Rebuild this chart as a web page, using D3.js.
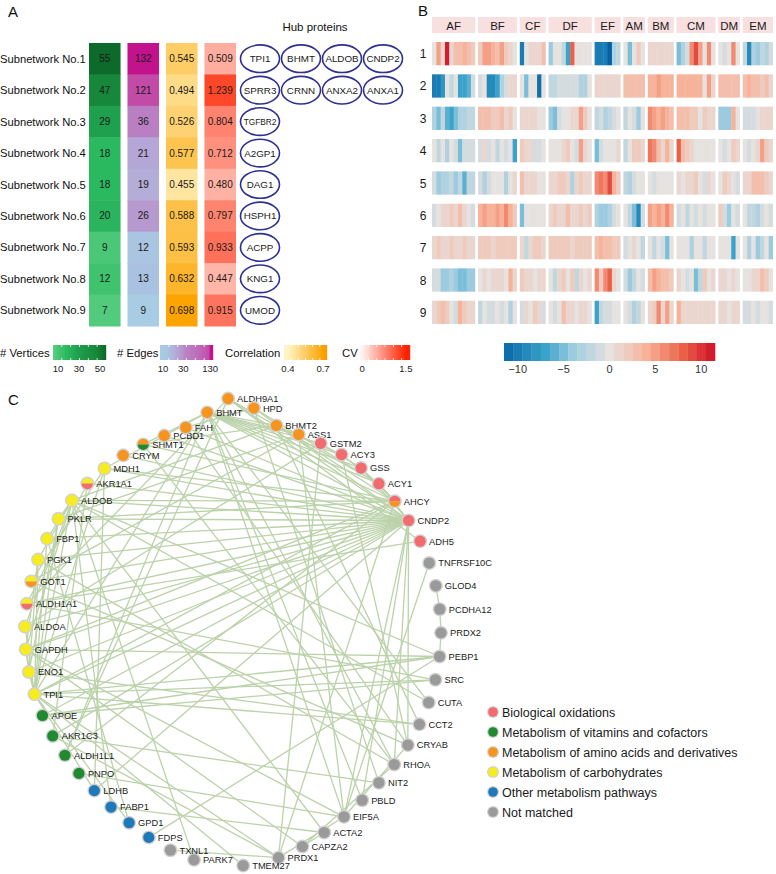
<!DOCTYPE html>
<html>
<head>
<meta charset="utf-8">
<script src="https://cdn.jsdelivr.net/npm/d3@7"></script>
<style>
  body { margin: 0; background: #fff; }
  svg { font-family: "Liberation Sans", Arial, sans-serif; }
</style>
</head>
<body>
<script>
// ---- panel A data ----
const subnetworks = ["Subnetwork No.1","Subnetwork No.2","Subnetwork No.3","Subnetwork No.4","Subnetwork No.5","Subnetwork No.6","Subnetwork No.7","Subnetwork No.8","Subnetwork No.9"];
const vertices = [55, 47, 29, 18, 18, 20, 9, 12, 7];
const edgeCounts = [132, 121, 36, 21, 19, 26, 12, 13, 9];
const correlation = [0.545, 0.494, 0.526, 0.577, 0.455, 0.588, 0.593, 0.632, 0.698];
const cv = [0.509, 1.239, 0.804, 0.712, 0.480, 0.797, 0.933, 0.447, 0.915];
const hubProteins = [
  ["TPI1","BHMT","ALDOB","CNDP2"], ["SPRR3","CRNN","ANXA2","ANXA1"], ["TGFBR2"], ["A2GP1"],
  ["DAG1"], ["HSPH1"], ["ACPP"], ["KNG1"], ["UMOD"]
];
const vertTicks = [10, 30, 50];
const edgeTicks = [10, 30, 130];
const corTicks = [0.4, 0.7];
const cvTicks = [0, 1.5];

// ---- panel B data ----
const groups = ["AF","BF","CF","DF","EF","AM","BM","CM","DM","EM"];
const groupSizes = [10, 9, 6, 10, 6, 5, 6, 9, 5, 7];
const heatRows = [1,2,3,4,5,6,7,8,9];
const heat = [
  [[0,5,1,11,1,3,3,4,3,2],[2,5,5,4,3,5,2,1,0],[-10,0,1,1,1,3],[-4,0,0,-2,-7,8,0,0,0,0],[-10,-10,-10,-12,-3,-2],[0,-5,0,2,0],[1,1,1,1,1,1],[-5,-3,-1,6,9,5,0,6,0],[0,-1,0,6,0],[-2,-9,-3,-4,-2,-3,-1]],
  [[-10,-10,-8,0,-2,0,-7,-7,-6,-1],[-1,0,-9,-9,-7,-3,-1,1,1],[0,-5,0,0,-11,0],[-2,-2,-1,-1,-1,-1,-1,-3,-3,0],[1,1,1,1,1,1],[3,3,3,3,3],[4,4,5,4,4,4],[4,4,4,4,4,4,0,5,1],[3,3,3,3,3],[3,4,3,3,2,3,1]],
  [[-3,-5,-2,-6,-7,-5,-3,-3,-2,-2],[3,3,3,2,2,3,1,2,0],[1,1,1,1,0,0],[-4,-5,-1,0,0,1,1,5,2,0],[-2,-1,-3,-2,-1,0],[-2,0,-1,-4,0],[6,5,4,5,4,3],[3,3,3,2,2,0,2,1,1],[-4,-4,-4,4,0],[-1,-1,-1,0,1,1,1]],
  [[0,-2,0,-3,0,-1,-5,-1,-1,-1],[-1,1,-1,0,-2,0,-1,0,-7],[2,1,1,-1,-1,0],[0,0,0,1,2,0,-1,5,1,0],[-5,-1,0,0,0,1],[-2,0,2,2,1],[7,6,3,1,4,1],[8,3,2,1,0,0,0,0,0],[0,-1,0,2,1],[0,-1,0,1,5,2,1]],
  [[-1,-4,-3,-3,-2,-4,-2,-6,-2,-2],[-1,-3,-1,0,0,0,-3,0,1],[3,1,1,1,0,0],[1,1,2,2,1,-3,1,2,1,1],[6,7,6,9,4,2],[-2,-3,-1,0,0],[0,-1,0,0,0,0],[1,0,1,1,2,0,-1,1,0],[0,2,1,0,-1],[1,1,3,3,3,2,1]],
  [[-1,0,1,1,2,1,3,1,0,-1],[4,5,4,4,5,4,6,4,2],[-5,0,0,0,0,0],[1,2,1,1,3,1,1,2,1,2],[-3,-4,-4,-3,-1,0],[0,-2,-5,-9,-1],[5,4,5,4,6,4],[-1,0,-2,0,-1,0,-1,0,0],[2,-1,-4,0,-1],[0,-2,-2,-3,-1,0,-1]],
  [[1,2,1,1,2,1,1,2,1,1],[2,2,2,1,2,2,2,2,2],[1,-2,1,2,2,1],[2,2,2,2,2,1,2,2,2,2],[3,4,3,3,2,2],[-1,0,1,0,-2],[0,-2,0,-1,-5,0],[0,0,0,-3,0,0,-2,0,0],[0,0,0,-7,0],[0,-3,0,-4,-2,0,-4]],
  [[-1,-1,-4,-4,-3,-4,-5,-5,-4,-4],[0,1,0,1,1,1,0,4,1],[2,1,1,0,1,1],[0,-2,1,2,0,2,-2,1,0,1],[6,2,6,8,1,0],[-1,-4,-2,0,-1],[3,5,4,3,3,2],[1,0,-1,0,-5,-2,2,0,1],[1,1,0,1,0],[0,0,1,1,3,2,0]],
  [[1,2,3,2,0,-1,4,2,1,1],[-2,0,-1,-1,0,-1,0,-3,0],[-1,1,0,2,1,-1],[0,-1,0,3,1,1,0,1,1,0],[-7,-2,-1,-1,0,0],[0,-1,-3,-2,0],[1,2,6,1,5,1],[4,1,1,1,1,1,1,1,1],[1,1,0,1,1],[-1,-1,0,-1,0,0,-1]]
];
const heatTicks = [-10, -5, 0, 5, 10];

// ---- panel C data ----
const nodeNames = ["ALDH9A1","HPD","BHMT2","ASS1","GSTM2","ACY3","GSS","ACY1","AHCY","CNDP2","ADH5",
  "TNFRSF10C","GLOD4","PCDHA12","PRDX2","PEBP1","SRC","CUTA","CCT2","CRYAB","RHOA","NIT2","PBLD","EIF5A",
  "ACTA2","CAPZA2","PRDX1","TMEM27","PARK7","TXNL1","FDPS","GPD1","FABP1","LDHB","PNPO","ALDH1L1","AKR1C3",
  "APOE","TPI1","ENO1","GAPDH","ALDOA","ALDH1A1","GOT1","PGK1","FBP1","PKLR","ALDOB","AKR1A1","MDH1","CRYM",
  "SHMT1","PCBD1","FAH","BHMT"];
const nodeGroups = ["amino","amino","amino","amino","bio","bio","bio","bio","bio|amino","bio","bio",
  "none","none","none","none","none","none","none","none","none","none","none","none","none",
  "none","none","none","none","none","none","other","other","other","other","vit","vit","vit",
  "vit","carb","carb","carb","carb","carb|bio","carb|amino","carb","carb","carb","carb","carb|bio","carb","amino",
  "amino|vit","amino","amino","amino"];
const links = [
  ["CNDP2","TPI1"],["CNDP2","ENO1"],["CNDP2","GAPDH"],["CNDP2","ALDOA"],["CNDP2","PGK1"],["CNDP2","FBP1"],
  ["CNDP2","PKLR"],["CNDP2","ALDOB"],["CNDP2","MDH1"],["CNDP2","AKR1A1"],["CNDP2","ALDH1A1"],["CNDP2","GOT1"],
  ["CNDP2","APOE"],["CNDP2","AKR1C3"],["CNDP2","LDHB"],["CNDP2","CRYM"],["CNDP2","PCBD1"],["CNDP2","FAH"],
  ["CNDP2","BHMT"],["CNDP2","ALDH9A1"],["CNDP2","HPD"],["CNDP2","ACY1"],["CNDP2","EIF5A"],["CNDP2","CRYAB"],
  ["CNDP2","RHOA"],["CNDP2","PBLD"],["CNDP2","GSS"],
  ["AHCY","BHMT"],["AHCY","BHMT2"],["AHCY","SHMT1"],["AHCY","MDH1"],["AHCY","ALDOB"],["AHCY","TPI1"],
  ["AHCY","GAPDH"],["AHCY","PKLR"],["AHCY","ACY1"],["AHCY","GSS"],["AHCY","ALDH1L1"],["AHCY","PRDX1"],
  ["BHMT","BHMT2"],["BHMT","ASS1"],["BHMT","GSTM2"],["BHMT","ACY3"],["BHMT","GSS"],["BHMT","ACY1"],
  ["BHMT","SHMT1"],["BHMT","CUTA"],["BHMT","RHOA"],["BHMT","EIF5A"],["BHMT","PBLD"],["BHMT","ALDH1L1"],
  ["BHMT","TPI1"],["BHMT","MDH1"],
  ["ALDH9A1","ACY1"],["ALDH9A1","ADH5"],["ALDH9A1","ALDH1A1"],["ALDH9A1","ALDH1L1"],
  ["HPD","FAH"],["HPD","ACY1"],["HPD","NIT2"],
  ["BHMT2","ACY3"],["BHMT2","SHMT1"],["BHMT2","CCT2"],["BHMT2","ALDOB"],
  ["ASS1","GOT1"],["ASS1","PKLR"],["ASS1","EIF5A"],
  ["GSTM2","GSS"],["GSTM2","ALDOA"],["GSTM2","PRDX1"],["ACY3","ACY1"],["ACY3","CRYAB"],
  ["TPI1","ENO1"],["TPI1","GAPDH"],["TPI1","ALDOA"],["TPI1","PGK1"],["TPI1","FBP1"],["TPI1","PKLR"],
  ["TPI1","ALDOB"],["TPI1","MDH1"],["TPI1","LDHB"],["TPI1","GPD1"],["TPI1","PEBP1"],["TPI1","CCT2"],
  ["TPI1","SRC"],["TPI1","PRDX1"],["TPI1","TMEM27"],
  ["ALDOB","FBP1"],["ALDOB","PKLR"],["ALDOB","GAPDH"],["ALDOB","ALDOA"],["ALDOB","PGK1"],["ALDOB","PEBP1"],
  ["ALDOB","CUTA"],["ALDOB","ACTA2"],["ALDOB","FABP1"],["ALDOB","PARK7"],
  ["GAPDH","PGK1"],["GAPDH","ENO1"],["GAPDH","PEBP1"],["GAPDH","CAPZA2"],["GAPDH","EIF5A"],
  ["ENO1","PGK1"],["ENO1","PKLR"],["ENO1","CCT2"],["PGK1","RHOA"],["FBP1","GPD1"],
  ["MDH1","GOT1"],["MDH1","LDHB"],["GOT1","CRYAB"],
  ["ALDH1A1","ADH5"],["ALDH1A1","AKR1A1"],["ALDH1A1","SRC"],["AKR1A1","AKR1C3"],
  ["AKR1C3","PRDX1"],["AKR1C3","NIT2"],["APOE","PEBP1"],["APOE","SRC"],["PNPO","EIF5A"],
  ["FABP1","ACTA2"],["FDPS","PEBP1"],["TXNL1","PRDX1"],
  ["PEBP1","PRDX2"],["PRDX2","PCDHA12"],["PCDHA12","GLOD4"],["TNFRSF10C","EIF5A"],
  ["EIF5A","CRYAB"],["EIF5A","PRDX1"],["CRYAB","FAH"],["RHOA","CAPZA2"],["RHOA","SHMT1"],["CAPZA2","ACTA2"]
];
const pathwayKeys = ["bio","vit","amino","carb","other","none"];
const pathwayLabels = ["Biological oxidations","Metabolism of vitamins and cofactors",
  "Metabolism of amino acids and derivatives","Metabolism of carbohydrates","Other metabolism pathways","Not matched"];
const pathwayColors = ["#f26b6d","#1f8a30","#f7941d","#f5ed1f","#1f78b8","#9a9a9a"];

const W = 776, H = 874;
const svg = d3.select("body").append("svg").attr("width", W).attr("height", H);

function panelLetter(t, x, y) {
  svg.append("text").attr("x", x).attr("y", y).attr("font-size", 15).attr("fill", "#111").text(t);
}

// ================= Panel A =================
panelLetter("A", 8, 17);
const yA = d3.scaleBand().domain(d3.range(9)).range([43, 326]);
const colKeys = ["vertices","edges","correlation","cv"];
const xA = d3.scaleBand().domain(colKeys).range([89, 236]).paddingInner(0.18);
const colVert = d3.scaleLinear().domain([7, 18, 29, 47, 55]).range(["#52cb7c","#2bb960","#1fa04e","#17873a","#0d6a2b"]);
const colEdge = d3.scaleLinear().domain([9, 13, 20, 36, 121, 132]).range(["#a8cce4","#aac2e1","#b4a9d7","#ba7fc2","#c24ba7","#c2138d"]);
const colCor = d3.scaleLinear().domain([0.4, 0.7]).range(["#fff4c4","#fca300"]);
const colCV = d3.scaleLinear().domain([0, 1.5]).range(["#fff4f0","#ff2200"]);
const colDefs = [
  {key: "vertices", vals: vertices, color: colVert, fmt: d => d},
  {key: "edges", vals: edgeCounts, color: colEdge, fmt: d => d},
  {key: "correlation", vals: correlation, color: colCor, fmt: d3.format(".3f")},
  {key: "cv", vals: cv, color: colCV, fmt: d3.format(".3f")}
];

const gA = svg.append("g");
gA.selectAll(".rowlab").data(subnetworks).enter().append("text")
  .attr("x", 0).attr("y", (d, i) => yA(i) + yA.bandwidth() / 2 + 4)
  .attr("font-size", 11.2).attr("fill", "#111").text(d => d);

colDefs.forEach(c => {
  const g = gA.append("g");
  g.selectAll("rect").data(c.vals).enter().append("rect")
    .attr("x", xA(c.key)).attr("y", (d, i) => yA(i))
    .attr("width", xA.bandwidth()).attr("height", yA.bandwidth() + 0.5)
    .attr("fill", d => c.color(d));
  g.selectAll("text").data(c.vals).enter().append("text")
    .attr("x", xA(c.key) + xA.bandwidth() / 2).attr("y", (d, i) => yA(i) + yA.bandwidth() / 2 + 3.5)
    .attr("text-anchor", "middle").attr("font-size", 10).attr("fill", "#1a1a1a")
    .text(d => c.fmt(d));
});

// hub proteins
const xHub = d3.scalePoint().domain([0, 1, 2, 3]).range([260, 383]);
gA.append("text").attr("x", 315).attr("y", 31).attr("text-anchor", "middle")
  .attr("font-size", 11.5).attr("fill", "#111").text("Hub  proteins");
hubProteins.forEach((hubs, i) => {
  const g = gA.append("g");
  g.selectAll("ellipse").data(hubs).enter().append("ellipse")
    .attr("cx", (d, j) => xHub(j)).attr("cy", yA(i) + yA.bandwidth() / 2)
    .attr("rx", 19.5).attr("ry", 13.8)
    .attr("fill", "#fff").attr("stroke", "#2e3190").attr("stroke-width", 1.6);
  g.selectAll("text").data(hubs).enter().append("text")
    .attr("x", (d, j) => xHub(j)).attr("y", yA(i) + yA.bandwidth() / 2 + 3.5)
    .attr("text-anchor", "middle").attr("font-size", d => d.length > 5 ? 8.3 : 9.8)
    .attr("fill", "#1a1a1a").text(d => d);
});

// legends for A
function gradLegend(label, lx, x0, x1, scale, colorFn, ticks, tickFmt) {
  const g = gA.append("g");
  g.append("text").attr("x", lx).attr("y", 357).attr("font-size", 11.3).attr("fill", "#111").text(label);
  const steps = d3.range(x0, x1, 1);
  g.selectAll("rect").data(steps).enter().append("rect")
    .attr("x", d => d).attr("y", 345).attr("width", 1.2).attr("height", 15)
    .attr("fill", d => colorFn(scale.invert(d + 0.5)));
  const notches = d3.range(1, 6).map(k => x0 + (x1 - x0) * k / 6);
  g.selectAll(".n1").data(notches).enter().append("line")
    .attr("x1", d => d).attr("x2", d => d).attr("y1", 345).attr("y2", 347)
    .attr("stroke", "#fff").attr("stroke-width", 0.8);
  g.selectAll(".n2").data(notches).enter().append("line")
    .attr("x1", d => d).attr("x2", d => d).attr("y1", 358).attr("y2", 360)
    .attr("stroke", "#fff").attr("stroke-width", 0.8);
  g.selectAll(".tk").data(ticks).enter().append("text")
    .attr("x", d => scale(d)).attr("y", 372).attr("text-anchor", "middle")
    .attr("font-size", 9.5).attr("fill", "#222").text(tickFmt);
}
gradLegend("# Vertices", 0, 53, 106, d3.scaleLinear().domain([5.2, 55.7]).range([53, 106]), colVert, vertTicks, d => d);
gradLegend("# Edges", 117, 160, 213, d3.scaleLog().domain([8.5, 151]).range([160, 213]), v => colEdge(Math.max(9, Math.min(132, v))), edgeTicks, d => d);
gradLegend("Correlation", 225, 284, 327, d3.scaleLinear().domain([0.366, 0.734]).range([284, 327]), v => colCor(Math.max(0.4, v)), corTicks, d => d);
gradLegend("CV", 342, 360, 410, d3.scaleLinear().domain([-0.07, 1.64]).range([360, 410]), v => colCV(Math.max(0, Math.min(1.5, v))), cvTicks, d => d);

// ================= Panel B =================
panelLetter("B", 418, 16);
const gapSlots = 0.65;
const starts = [];
let acc = 0;
groupSizes.forEach((n, i) => { starts.push(acc); acc += n + gapSlots; });
const totalSlots = acc - gapSlots;
const xB = d3.scaleLinear().domain([0, totalSlots]).range([432, 773]);
const yB = d3.scaleBand().domain(heatRows).range([42, 324]).paddingInner(0.28);
const colHeat = d3.scaleLinear().domain([-11.5, -7, -4, 0, 4, 8, 11.5])
  .range(["#0868a8","#3aa3cb","#9ccbe0","#e6e2e0","#f7b39a","#ea6148","#d0112b"]);

const gB = svg.append("g");
groups.forEach((grp, gi) => {
  const x0 = xB(starts[gi]), x1 = xB(starts[gi] + groupSizes[gi]);
  gB.append("rect").attr("x", x0).attr("y", 17).attr("width", x1 - x0).attr("height", 16).attr("fill", "#f8dfe0");
  gB.append("text").attr("x", (x0 + x1) / 2).attr("y", 29.5).attr("text-anchor", "middle")
    .attr("font-size", 11.5).attr("fill", "#1a1a1a").text(grp);
});
const cellW = xB(1) - xB(0);
heat.forEach((row, ri) => {
  const r = heatRows[ri];
  const g = gB.append("g");
  const cells = [];
  row.forEach((vals, gi) => vals.forEach((v, si) => cells.push({slot: starts[gi] + si, v: v, last: si === vals.length - 1})));
  g.selectAll("rect").data(cells).enter().append("rect")
    .attr("x", d => xB(d.slot)).attr("y", yB(r))
    .attr("width", d => d.last ? cellW : cellW + 0.4).attr("height", yB.bandwidth())
    .attr("fill", d => colHeat(d.v));
  gB.append("text").attr("x", 423).attr("y", yB(r) + yB.bandwidth() / 2 + 4.5)
    .attr("text-anchor", "middle").attr("font-size", 12).attr("fill", "#1a1a1a").text(r);
});

// heatmap legend
const xLeg = d3.scaleLinear().domain([-11.5, 11.5]).range([504, 715]);
const legBlocks = d3.range(-11.5, 11.5, 1);
gB.selectAll(".lb").data(legBlocks).enter().append("rect")
  .attr("x", d => xLeg(d)).attr("y", 343).attr("width", xLeg(1) - xLeg(0) + 0.3).attr("height", 18)
  .attr("fill", d => colHeat(d + 0.5));
gB.selectAll(".lt").data(heatTicks).enter().append("text")
  .attr("x", d => xLeg(d)).attr("y", 373).attr("text-anchor", "middle")
  .attr("font-size", 11).attr("fill", "#333").text(d => d < 0 ? "\u2212" + Math.abs(d) : d);

// ================= Panel C =================
panelLetter("C", 8, 405);
const cx = 233, cy = 632;
const angleScale = d3.scaleLinear().domain([0, 26, 27, 28, 54]).range([-91.2, 78.6, 87.5, 99.7, 263.3]);
// ring is pointed at the top, rounder at the bottom
const nodes = nodeNames.map((name, i) => {
  const a = angleScale(i) * Math.PI / 180;
  const s = Math.sin(a);
  const r = 208 + 26 * Math.pow(Math.abs(s), s < 0 ? 100 : 8);
  return {name: name, groups: nodeGroups[i].split("|"), x: cx + r * Math.cos(a), y: cy + r * s};
});
const nodeById = new Map(nodes.map(n => [n.name, n]));
const pathColor = d3.scaleOrdinal().domain(pathwayKeys).range(pathwayColors);

const gC = svg.append("g");
gC.append("g").selectAll("line").data(links).enter().append("line")
  .attr("x1", d => nodeById.get(d[0]).x).attr("y1", d => nodeById.get(d[0]).y)
  .attr("x2", d => nodeById.get(d[1]).x).attr("y2", d => nodeById.get(d[1]).y)
  .attr("stroke", "#bcd2aa").attr("stroke-width", 1.3);

const nodeG = gC.append("g").selectAll("g").data(nodes).enter().append("g")
  .attr("transform", d => `translate(${d.x},${d.y})`);
nodeG.append("circle").attr("r", 7).attr("fill", "#d2d2d2");
const halfArc = d3.arc().innerRadius(0).outerRadius(5.6);
nodeG.each(function(d) {
  const g = d3.select(this);
  if (d.groups.length === 1) {
    g.append("circle").attr("r", 5.6).attr("fill", pathColor(d.groups[0]));
  } else {
    g.append("path").attr("d", halfArc({startAngle: -Math.PI / 2, endAngle: Math.PI / 2})).attr("fill", pathColor(d.groups[0]));
    g.append("path").attr("d", halfArc({startAngle: Math.PI / 2, endAngle: 3 * Math.PI / 2})).attr("fill", pathColor(d.groups[1]));
  }
});
nodeG.append("text").attr("x", 9).attr("y", 3.4).attr("font-size", 9.3).attr("fill", "#1a1a1a").text(d => d.name);

// legend C
const yLegC = d3.scalePoint().domain(pathwayKeys).range([712, 812]);
const legC = gC.append("g").selectAll("g").data(pathwayKeys).enter().append("g")
  .attr("transform", d => `translate(493,${yLegC(d)})`);
legC.append("circle").attr("r", 6).attr("fill", "#d2d2d2");
legC.append("circle").attr("r", 4.8).attr("fill", d => pathColor(d));
legC.append("text").attr("x", 9).attr("y", 4.5).attr("font-size", 12.5).attr("fill", "#1a1a1a")
  .text((d, i) => pathwayLabels[i]);
</script>
</body>
</html>
